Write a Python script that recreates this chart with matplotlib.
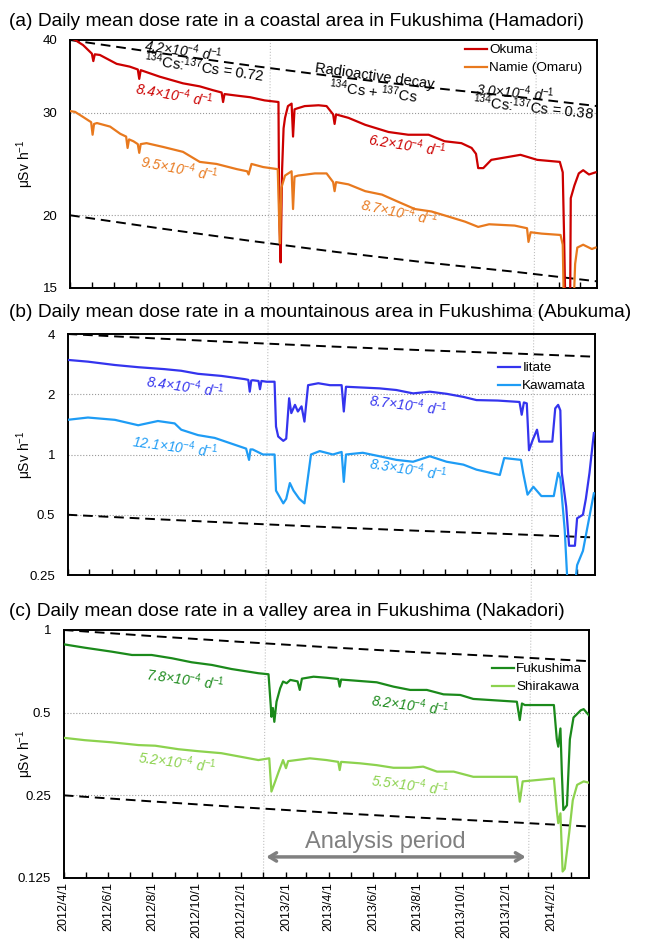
import numpy as np
import matplotlib
matplotlib.use('Agg')
import matplotlib.pyplot as plt
import matplotlib.dates as mdates
from matplotlib.lines import Line2D
from datetime import datetime

plt.rcParams['font.family'] = ['Liberation Sans', 'DejaVu Sans']
plt.rcParams['mathtext.fontset'] = 'custom'
plt.rcParams['mathtext.rm'] = 'Liberation Sans'
plt.rcParams['mathtext.it'] = 'Liberation Sans:italic'
plt.rcParams['mathtext.bf'] = 'Liberation Sans:bold'

# all series: days since 2012/4/1, daily mean dose rate (uSv/h)
START = np.datetime64('2012-04-01')
END_DAY = 723

okuma_days = [0, 7, 18, 30, 32, 34, 41, 64, 82, 93, 95, 97, 100, 123, 155, 178, 196, 208, 210, 212,
              229, 247, 267, 286, 287, 289, 291, 293, 295, 299, 304, 306, 308, 311, 322, 341, 352,
              361, 363, 365, 382, 405, 437, 464, 492, 514, 537, 551, 557, 560, 567, 578, 618, 641,
              672, 676, 678, 680, 686, 687, 692, 698, 704, 712, 721]
okuma = [40.3, 40.0, 39.2, 37.9, 36.8, 37.8, 37.7, 36.4, 36.0, 35.6, 34.3, 35.5, 35.4, 34.6, 33.7,
         33.3, 32.8, 32.5, 31.3, 32.3, 32.1, 31.9, 31.5, 31.3, 20.0, 16.6, 24.0, 28.2, 29.4, 30.8,
         31.1, 27.3, 30.4, 30.5, 30.8, 30.9, 30.8, 29.8, 28.7, 29.8, 29.4, 28.6, 27.8, 27.5, 27.5,
         26.8, 26.6, 26.1, 25.5, 24.1, 24.1, 24.9, 25.4, 24.9, 24.7, 23.7, 18.0, 13.0, 13.0, 21.4,
         22.5, 23.6, 23.9, 23.5, 23.7]

namie_days = [0, 7, 18, 29, 31, 33, 37, 55, 69, 77, 79, 81, 87, 93, 95, 97, 105, 128, 155, 178, 201,
              229, 243, 245, 249, 265, 285, 287, 288, 290, 295, 304, 306, 308, 313, 336, 352, 361,
              363, 365, 382, 405, 428, 450, 473, 496, 519, 542, 560, 575, 610, 627, 629, 632, 647,
              673, 676, 678, 690, 693, 696, 704, 716, 721]
namie = [30.2, 30.1, 29.5, 28.9, 27.5, 28.7, 28.8, 28.4, 27.6, 27.3, 26.1, 27.0, 26.8, 26.5, 25.6,
         26.5, 26.6, 26.2, 25.7, 24.7, 24.5, 24.0, 23.8, 23.5, 24.5, 24.2, 24.0, 19.5, 17.9, 22.3,
         23.4, 23.8, 20.5, 23.3, 23.4, 23.6, 23.6, 22.8, 22.0, 22.8, 22.6, 22.0, 21.7, 21.1, 20.5,
         20.3, 19.9, 19.5, 19.1, 19.3, 19.2, 19.0, 18.0, 18.7, 18.6, 18.5, 17.8, 13.0, 13.0, 16.5,
         17.6, 17.8, 17.5, 17.6]

iitate_days = [0, 28, 65, 97, 133, 156, 179, 211, 243, 248, 250, 252, 254, 262, 264, 266, 273, 284,
               286, 289, 296, 300, 304, 307, 312, 316, 321, 325, 330, 344, 360, 376, 379, 382, 405,
               428, 451, 474, 497, 520, 543, 561, 590, 620, 623, 626, 630, 633, 638, 644, 647, 665,
               669, 673, 676, 678, 684, 688, 696, 699, 707, 711, 716, 722]
iitate = [2.97, 2.91, 2.80, 2.73, 2.67, 2.62, 2.53, 2.47, 2.38, 2.36, 2.06, 2.34, 2.35, 2.33, 2.12,
          2.33, 2.31, 2.31, 1.38, 1.23, 1.17, 1.20, 1.91, 1.61, 1.77, 1.64, 1.74, 1.46, 2.22, 2.27,
          2.22, 2.22, 1.64, 2.18, 2.16, 2.14, 2.10, 2.02, 2.06, 2.01, 1.94, 1.87, 1.86, 1.83, 1.58,
          1.82, 1.80, 1.05, 1.18, 1.33, 1.16, 1.16, 1.70, 1.77, 1.66, 0.81, 0.55, 0.35, 0.35, 0.48,
          0.50, 0.60, 0.81, 1.28]

kawamata_days = [0, 28, 65, 97, 124, 147, 156, 179, 202, 229, 245, 249, 251, 254, 268, 284, 286, 296,
                 300, 305, 310, 318, 325, 334, 346, 364, 376, 379, 382, 405, 428, 451, 474, 497, 520,
                 543, 561, 593, 599, 622, 625, 631, 639, 650, 667, 673, 676, 682, 686, 696, 699, 707,
                 722]
kawamata = [1.49, 1.53, 1.49, 1.40, 1.47, 1.43, 1.33, 1.25, 1.21, 1.12, 1.07, 0.94, 1.06, 1.06, 1.00,
            1.00, 0.66, 0.57, 0.60, 0.72, 0.66, 0.60, 0.57, 1.00, 1.04, 1.00, 1.03, 0.73, 1.00, 1.02,
            0.98, 0.94, 0.92, 0.98, 0.92, 0.89, 0.84, 0.79, 0.96, 0.94, 0.81, 0.63, 0.69, 0.62, 0.62,
            0.81, 0.76, 0.42, 0.22, 0.22, 0.28, 0.33, 0.64]

fukushima_days = [0, 29, 66, 94, 121, 149, 176, 204, 231, 268, 282, 285, 286, 288, 290, 293, 298, 302,
                  307, 312, 322, 325, 328, 344, 362, 378, 380, 382, 408, 431, 454, 477, 500, 523, 546,
                  564, 624, 628, 631, 635, 675, 679, 681, 684, 686, 688, 693, 697, 702, 712, 716, 723]
fukushima = [0.887, 0.862, 0.834, 0.811, 0.811, 0.789, 0.763, 0.746, 0.721, 0.696, 0.690, 0.533, 0.483,
             0.520, 0.463, 0.548, 0.613, 0.649, 0.640, 0.658, 0.650, 0.605, 0.665, 0.676, 0.670, 0.663,
             0.622, 0.660, 0.652, 0.645, 0.622, 0.605, 0.605, 0.583, 0.580, 0.561, 0.548, 0.470, 0.540,
             0.533, 0.533, 0.400, 0.376, 0.438, 0.300, 0.221, 0.230, 0.400, 0.480, 0.510, 0.515, 0.490]

shirakawa_days = [0, 29, 66, 103, 126, 158, 185, 217, 250, 268, 283, 286, 291, 296, 302, 306, 309, 339,
                  362, 378, 380, 382, 408, 431, 454, 477, 495, 514, 537, 564, 624, 628, 632, 675, 679,
                  681, 684, 687, 690, 696, 701, 707, 716, 723]
shirakawa = [0.405, 0.397, 0.390, 0.381, 0.379, 0.368, 0.362, 0.356, 0.343, 0.336, 0.341, 0.258, 0.280,
             0.305, 0.336, 0.314, 0.333, 0.341, 0.336, 0.331, 0.309, 0.331, 0.327, 0.322, 0.315, 0.315,
             0.318, 0.305, 0.305, 0.292, 0.292, 0.237, 0.281, 0.288, 0.220, 0.198, 0.215, 0.132, 0.135,
             0.182, 0.240, 0.273, 0.281, 0.278]

# radioactive decay of 134Cs + 137Cs, relative to 2012/4/1
decay_days = [0, 122, 244, 365, 487, 609, 723]
decay_rel = [1.0, 0.95, 0.905, 0.865, 0.83, 0.80, 0.77]

tick_labels = ['2012/4/1', '2012/6/1', '2012/8/1', '2012/10/1', '2012/12/1', '2013/2/1',
               '2013/4/1', '2013/6/1', '2013/8/1', '2013/10/1', '2013/12/1', '2014/2/1']
period = ['2013/1/1', '2014/1/1']


def to_dates(days):
    return START + np.array(days).astype('timedelta64[D]')


panels = [
    dict(title='(a) Daily mean dose rate in a coastal area in Fukushima (Hamadori)',
         pos=[70, 40, 597, 288], title_y=21, ylim=(15, 40),
         yticks=[15, 20, 30, 40], yticklabels=['15', '20', '30', '40'],
         decay=[40, 20],
         series=[('Okuma', okuma_days, okuma, '#CC0000'),
                 ('Namie (Omaru)', namie_days, namie, '#E8791E')],
         legend=(465, 44)),
    dict(title='(b) Daily mean dose rate in a mountainous area in Fukushima (Abukuma)',
         pos=[67.5, 334, 594.6, 575], title_y=313, ylim=(0.25, 4),
         yticks=[0.25, 0.5, 1, 2, 4], yticklabels=['0.25', '0.5', '1', '2', '4'],
         decay=[4, 0.5],
         series=[('Iitate', iitate_days, iitate, '#3434EE'),
                 ('Kawamata', kawamata_days, kawamata, '#1E9CF5')],
         legend=(498, 362)),
    dict(title='(c) Daily mean dose rate in a valley area in Fukushima (Nakadori)',
         pos=[63.75, 630, 588.75, 878], title_y=612, ylim=(0.125, 1),
         yticks=[0.125, 0.25, 0.5, 1], yticklabels=['0.125', '0.25', '0.5', '1'],
         decay=[1, 0.25],
         series=[('Fukushima', fukushima_days, fukushima, '#1B8A1B'),
                 ('Shirakawa', shirakawa_days, shirakawa, '#8CD24E')],
         legend=(492, 663)),
]

W, H = 646, 939
fig = plt.figure(figsize=(W / 100, H / 100), dpi=100)
axes = []
for p in panels:
    l, t, r, b = p['pos']
    ax = fig.add_axes([l / W, 1 - b / H, (r - l) / W, (b - t) / H])
    ax.set_facecolor('none')
    axes.append(ax)

    ax.set_yscale('log')
    ax.set_ylim(*p['ylim'])
    ax.set_xlim(START, START + np.timedelta64(END_DAY, 'D'))

    for yt in p['yticks'][1:-1]:
        ax.axhline(yt, color='#999999', ls=':', lw=0.8, zorder=1)

    for lvl in p['decay']:
        ax.plot(to_dates(decay_days), [lvl * v for v in decay_rel], color='black',
                ls=(0, (5, 3)), lw=1.4, zorder=2)

    for name, d, v, c in p['series']:
        ax.plot(to_dates(d), v, color=c, lw=1.6, label=name, zorder=3)

    ax.set_yticks(p['yticks'])
    ax.set_yticklabels(p['yticklabels'])
    ax.yaxis.set_minor_locator(matplotlib.ticker.NullLocator())
    ax.tick_params(axis='y', length=0, pad=9, labelsize=9.5)

    tick_dates = [datetime.strptime(s, '%Y/%m/%d') for s in tick_labels]
    ax.set_xticks(tick_dates)
    ax.xaxis.set_minor_locator(mdates.MonthLocator())
    ax.tick_params(axis='x', which='both', direction='in', length=4, width=1, pad=3)
    if len(axes) == 3:
        ax.set_xticklabels(tick_labels, rotation=90, fontsize=9)
    else:
        ax.set_xticklabels([])

    for s in ax.spines.values():
        s.set_linewidth(1.4)

    ax.set_ylabel('μSv h$^{-1}$', fontsize=10)
    ax.yaxis.set_label_coords(-(l - 36) / (r - l), 0.5)

    fig.text(9 / W, 1 - p['title_y'] / H, p['title'], fontsize=13.8, va='center', ha='left')

    lx, ly = p['legend']
    ax.legend(loc='upper left', bbox_to_anchor=(lx / W, 1 - ly / H), bbox_transform=fig.transFigure,
              frameon=False, fontsize=9.7, handlelength=1.6, handletextpad=0.2,
              labelspacing=0.4, borderaxespad=0, borderpad=0)

ax_a, ax_b, ax_c = axes

rate_kw = dict(fontsize=10, style='italic', ha='center', va='center', rotation_mode='anchor')
plain_kw = dict(fontsize=10.5, ha='center', va='center', rotation_mode='anchor')

# panel a annotations
ax_a.text(0.214, 0.960, '4.2×10$^{-4}$ d$^{-1}$', transform=ax_a.transAxes, rotation=-8, **rate_kw)
ax_a.text(0.254, 0.891, '$^{134}$Cs:$^{137}$Cs = 0.72', transform=ax_a.transAxes, rotation=-8, **plain_kw)
ax_a.text(0.578, 0.853, 'Radioactive decay', transform=ax_a.transAxes, rotation=-8, **plain_kw)
ax_a.text(0.575, 0.795, '$^{134}$Cs + $^{137}$Cs', transform=ax_a.transAxes, rotation=-7, **plain_kw)
ax_a.text(0.844, 0.790, '3.0×10$^{-4}$ d$^{-1}$', transform=ax_a.transAxes, rotation=-5, **rate_kw)
ax_a.text(0.879, 0.730, '$^{134}$Cs:$^{137}$Cs = 0.38', transform=ax_a.transAxes, rotation=-6, **plain_kw)
ax_a.text(0.199, 0.778, '8.4×10$^{-4}$ d$^{-1}$', transform=ax_a.transAxes, rotation=-10, color='#CC0000', **rate_kw)
ax_a.text(0.641, 0.577, '6.2×10$^{-4}$ d$^{-1}$', transform=ax_a.transAxes, rotation=-9, color='#CC0000', **rate_kw)
ax_a.text(0.207, 0.484, '9.5×10$^{-4}$ d$^{-1}$', transform=ax_a.transAxes, rotation=-11, color='#E8791E', **rate_kw)
ax_a.text(0.626, 0.306, '8.7×10$^{-4}$ d$^{-1}$', transform=ax_a.transAxes, rotation=-12, color='#E8791E', **rate_kw)

# panel b annotations
ax_b.text(0.223, 0.784, '8.4×10$^{-4}$ d$^{-1}$', transform=ax_b.transAxes, rotation=-8, color='#3434EE', **rate_kw)
ax_b.text(0.646, 0.705, '8.7×10$^{-4}$ d$^{-1}$', transform=ax_b.transAxes, rotation=-7.5, color='#3434EE', **rate_kw)
ax_b.text(0.204, 0.535, '12.1×10$^{-4}$ d$^{-1}$', transform=ax_b.transAxes, rotation=-7.5, color='#1E9CF5', **rate_kw)
ax_b.text(0.646, 0.440, '8.3×10$^{-4}$ d$^{-1}$', transform=ax_b.transAxes, rotation=-9, color='#1E9CF5', **rate_kw)

# panel c annotations
ax_c.text(0.231, 0.802, '7.8×10$^{-4}$ d$^{-1}$', transform=ax_c.transAxes, rotation=-8, color='#1B8A1B', **rate_kw)
ax_c.text(0.660, 0.698, '8.2×10$^{-4}$ d$^{-1}$', transform=ax_c.transAxes, rotation=-7.5, color='#1B8A1B', **rate_kw)
ax_c.text(0.216, 0.468, '5.2×10$^{-4}$ d$^{-1}$', transform=ax_c.transAxes, rotation=-7.5, color='#8CD24E', **rate_kw)
ax_c.text(0.660, 0.375, '5.5×10$^{-4}$ d$^{-1}$', transform=ax_c.transAxes, rotation=-7.5, color='#8CD24E', **rate_kw)

period_dates = [datetime.strptime(s, '%Y/%m/%d') for s in period]
ax_c.text(0.612, 0.145, 'Analysis period', transform=ax_c.transAxes, fontsize=17,
          color='#808080', ha='center', va='center')
ax_c.annotate('', xy=(period_dates[1], 0.085), xytext=(period_dates[0], 0.085),
              xycoords=('data', 'axes fraction'), textcoords=('data', 'axes fraction'),
              arrowprops=dict(arrowstyle='<->,head_length=0.5,head_width=0.3',
                              color='#808080', lw=2.5))

# analysis-period guide lines running through all three panels
inv = fig.transFigure.inverted()
for d in period_dates:
    xn = mdates.date2num(d)
    top = ax_a.transData.transform((xn, 20))[0], ax_a.transAxes.transform((0, 1))[1]
    bot = ax_c.transData.transform((xn, 0.5))[0], ax_c.transAxes.transform((0, 0))[1]
    (x0, y0), (x1, y1) = inv.transform(top), inv.transform(bot)
    fig.add_artist(Line2D([x0, x1], [y0, y1], transform=fig.transFigure, color='#c0c0c0',
                          ls=':', lw=0.8, zorder=-1))

plt.savefig('out.png', dpi=100)
